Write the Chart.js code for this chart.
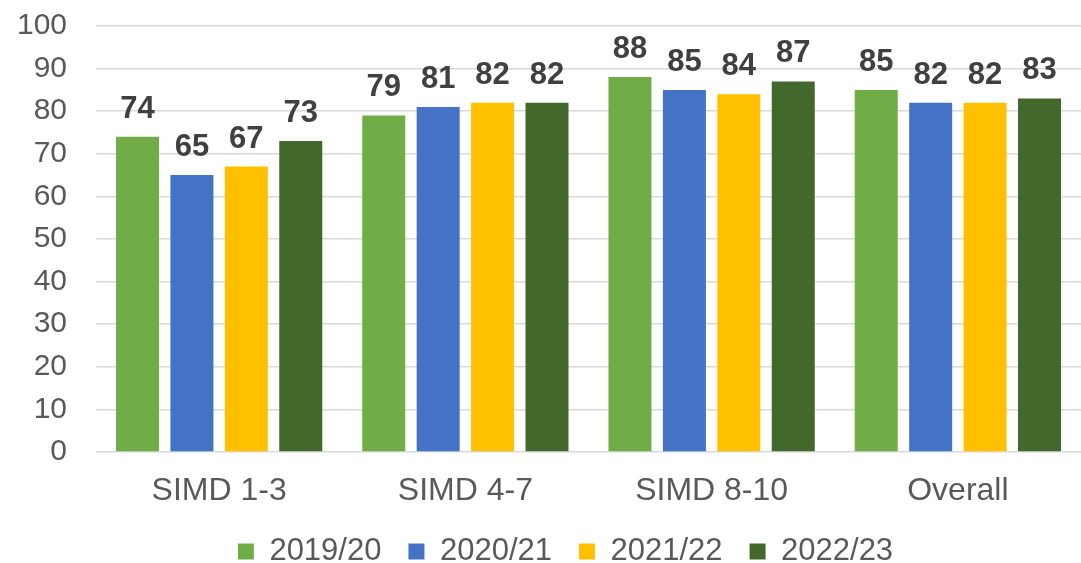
<!DOCTYPE html>
<html>
<head>
<meta charset="utf-8">
<script src="https://cdn.jsdelivr.net/npm/chart.js@4"></script>
<style>
  html, body { margin: 0; padding: 0; background: #fff; }
  #wrap { width: 1081px; height: 563px; position: relative; }
</style>
</head>
<body>
<div id="wrap"><canvas id="c" width="1081" height="563"></canvas></div>
<script>
const categories = ["SIMD 1-3", "SIMD 4-7", "SIMD 8-10", "Overall"];
const seriesNames = ["2019/20", "2020/21", "2021/22", "2022/23"];
const v2019 = [74, 79, 88, 85];
const v2020 = [65, 81, 85, 82];
const v2021 = [67, 82, 84, 82];
const v2022 = [73, 82, 87, 83];
const yTicks = [0, 10, 20, 30, 40, 50, 60, 70, 80, 90, 100];
const colors = ["#70AD47", "#4472C4", "#FFC000", "#43682B"];

const allValues = [v2019, v2020, v2021, v2022];
const FONT = "'Liberation Sans', Arial, sans-serif";

const labelPlugin = {
  id: 'barLabels',
  afterLayout(chart) {
    if (chart.legend) { chart.legend.left += 25; chart.legend.right += 25; }
  },
  afterDatasetsDraw(chart) {
    const ctx = chart.ctx;
    ctx.save();
    ctx.font = "bold 31px " + FONT;
    ctx.fillStyle = "#404040";
    ctx.textAlign = "center";
    ctx.textBaseline = "alphabetic";
    chart.data.datasets.forEach((ds, i) => {
      const meta = chart.getDatasetMeta(i);
      meta.data.forEach((bar, j) => {
        ctx.fillText(String(ds.data[j]), bar.x, bar.y - 19);
      });
    });
    ctx.restore();
  }
};

new Chart(document.getElementById('c'), {
  type: 'bar',
  data: {
    labels: categories,
    datasets: seriesNames.map((name, i) => ({
      label: name,
      data: allValues[i],
      backgroundColor: colors[i],
      borderWidth: 0,
      barPercentage: 0.79,
      categoryPercentage: 0.884
    }))
  },
  options: {
    responsive: false,
    animation: false,
    devicePixelRatio: 1,
    layout: { padding: { top: 26, right: 0, left: 0, bottom: -14 } },
    plugins: {
      legend: {
        position: 'bottom',
        labels: {
          boxWidth: 16,
          boxHeight: 16,
          padding: 27,
          color: "#595959",
          font: { size: 31, family: FONT }
        }
      },
      tooltip: { enabled: false }
    },
    scales: {
      x: {
        grid: { display: false, drawTicks: false },
        border: { display: false },
        ticks: { color: "#595959", font: { size: 32, family: FONT }, padding: 20 },
        afterFit(scale) { scale.height = 57; }
      },
      y: {
        min: 0, max: 100,
        afterBuildTicks(scale) { scale.ticks = yTicks.map(v => ({ value: v })); },
        grid: { color: "#D9D9D9", lineWidth: 1.5, drawTicks: true, tickLength: 29, tickColor: "rgba(0,0,0,0)" },
        border: { display: false },
        ticks: { color: "#595959", font: { size: 30, family: FONT }, padding: 0 },
        afterFit(scale) { scale.width = 96; }
      }
    }
  },
  plugins: [labelPlugin]
});
</script>
</body>
</html>
